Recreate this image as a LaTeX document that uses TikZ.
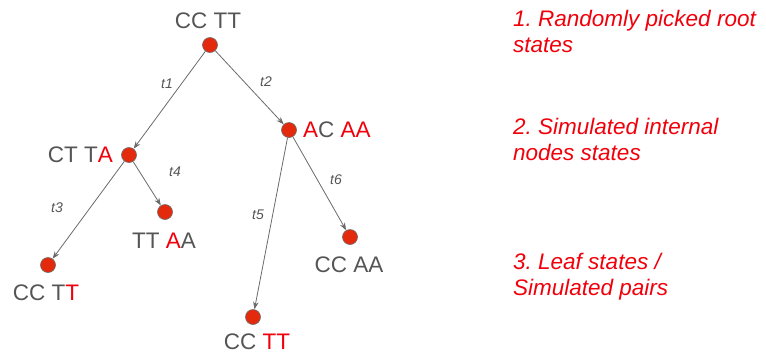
\documentclass[tikz,border=0pt]{standalone}
\usepackage{fontspec}
\setmainfont{Liberation Sans}
\usetikzlibrary{arrows.meta}
\frenchspacing
\definecolor{dotred}{HTML}{E42A0C}
\definecolor{txtred}{HTML}{F0000A}
\definecolor{txtgray}{HTML}{555555}
\definecolor{linegray}{HTML}{6A6A6A}
\tikzset{
  state/.style={circle, fill=dotred, draw=linegray, line width=0.6pt, minimum size=15pt, inner sep=0pt},
  seq/.style={text=txtgray, font=\fontsize{22.5}{26}\selectfont, inner sep=0pt},
  tlab/.style={text=txtgray, font=\fontsize{14}{16}\selectfont\itshape, inner sep=0pt},
  note/.style={text=txtred, font=\fontsize{22.5}{26}\selectfont\itshape, inner sep=0pt, anchor=north west, align=left},
  branch/.style={draw=linegray, line width=0.8pt, -{Stealth[length=7.5pt,width=5.5pt]}}
}
\newcommand{\R}[1]{\textcolor{txtred}{#1}}
\begin{document}
\begin{tikzpicture}[x=1pt, y=-1pt]
    \useasboundingbox (0,0) rectangle (766,357);
    % states
    \node[state] (root) at (210,45) {};
    \node[state] (int1) at (129,155) {};
    \node[state] (int2) at (289,130) {};
    \node[state] (leafa) at (48,265) {};
    \node[state] (leafb) at (165,212) {};
    \node[state] (leafc) at (253,317) {};
    \node[state] (leafd) at (350,237) {};
    % sequences
    \node[seq] (rootseq) at (208,21) {CC TT};
    \node[seq, anchor=east] (int1seq) at (113,155) {CT T\R{A}};
    \node[seq, anchor=west] (int2seq) at (303,130) {\R{A}C \R{AA}};
    \node[seq] (leafaseq) at (46,293) {CC T\R{T}};
    \node[seq] (leafbseq) at (164,241) {TT \R{A}A};
    \node[seq] (leafcseq) at (257,342) {CC \R{TT}};
    \node[seq] (leafdseq) at (349,265) {CC AA};
    % branches
    \draw[branch] (root) -- (int1);
    \draw[branch] (root) -- (int2);
    \draw[branch] (int1) -- (leafa);
    \draw[branch] (int1) -- (leafb);
    \draw[branch] (int2) -- (leafc);
    \draw[branch] (int2) -- (leafd);
    % branch lengths
    \node[tlab] (t1) at (167,84) {t1};
    \node[tlab] (t2) at (266,82) {t2};
    \node[tlab] (t3) at (57,208) {t3};
    \node[tlab] (t4) at (175,172) {t4};
    \node[tlab] (t5) at (258,215) {t5};
    \node[tlab] (t6) at (336,180) {t6};
    % notes
    \node[note] (note1) at (513,10) {1. Randomly picked root\\states};
    \node[note] (note2) at (513,118) {2. Simulated internal\\nodes states};
    \node[note] (note3) at (513,253) {3. Leaf states /\\Simulated pairs};
\end{tikzpicture}
\end{document}
